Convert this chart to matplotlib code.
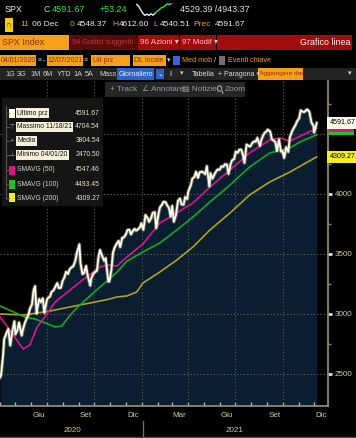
import numpy as np
import pandas as pd
import matplotlib
matplotlib.use("Agg")
import matplotlib.pyplot as plt
import matplotlib.dates as mdates
from matplotlib import font_manager
from matplotlib.patches import Rectangle, Circle
from matplotlib.lines import Line2D
from matplotlib.transforms import blended_transform_factory

# ── data ─────────────────────────────────────────────────────────────────────
price_dates = [
    "2020-04-01", "2020-04-03", "2020-04-07", "2020-04-09", "2020-04-14", "2020-04-17",
    "2020-04-21", "2020-04-24", "2020-04-29", "2020-05-01", "2020-05-05", "2020-05-08",
    "2020-05-13", "2020-05-15", "2020-05-19", "2020-05-22", "2020-05-26", "2020-05-29",
    "2020-06-02", "2020-06-05", "2020-06-08", "2020-06-11", "2020-06-12", "2020-06-16",
    "2020-06-19", "2020-06-23", "2020-06-26", "2020-06-30", "2020-07-02", "2020-07-07",
    "2020-07-10", "2020-07-14", "2020-07-17", "2020-07-21", "2020-07-24", "2020-07-28",
    "2020-07-31", "2020-08-04", "2020-08-07", "2020-08-11", "2020-08-14", "2020-08-18",
    "2020-08-21", "2020-08-25", "2020-08-28", "2020-09-02", "2020-09-04", "2020-09-08",
    "2020-09-11", "2020-09-15", "2020-09-18", "2020-09-23", "2020-09-25", "2020-09-29",
    "2020-10-02", "2020-10-06", "2020-10-09", "2020-10-12", "2020-10-16", "2020-10-20",
    "2020-10-23", "2020-10-28", "2020-10-30", "2020-11-03", "2020-11-06", "2020-11-09",
    "2020-11-13", "2020-11-17", "2020-11-20", "2020-11-24", "2020-11-27", "2020-12-01",
    "2020-12-04", "2020-12-08", "2020-12-11", "2020-12-15", "2020-12-18", "2020-12-21",
    "2020-12-24", "2020-12-29", "2020-12-31",
    "2021-01-04", "2021-01-08", "2021-01-12", "2021-01-15", "2021-01-19", "2021-01-22",
    "2021-01-26", "2021-01-29", "2021-02-02", "2021-02-05", "2021-02-09", "2021-02-12",
    "2021-02-16", "2021-02-19", "2021-02-23", "2021-02-26", "2021-03-01", "2021-03-04",
    "2021-03-08", "2021-03-12", "2021-03-16", "2021-03-19", "2021-03-23", "2021-03-26",
    "2021-03-30", "2021-04-01", "2021-04-06", "2021-04-09", "2021-04-13", "2021-04-16",
    "2021-04-20", "2021-04-23", "2021-04-27", "2021-04-30", "2021-05-04", "2021-05-07",
    "2021-05-12", "2021-05-14", "2021-05-18", "2021-05-21", "2021-05-25", "2021-05-28",
    "2021-06-01", "2021-06-04", "2021-06-08", "2021-06-11", "2021-06-15", "2021-06-18",
    "2021-06-22", "2021-06-25", "2021-06-29", "2021-07-02", "2021-07-06", "2021-07-09",
    "2021-07-13", "2021-07-16", "2021-07-19", "2021-07-23", "2021-07-27", "2021-07-30",
    "2021-08-03", "2021-08-06", "2021-08-10", "2021-08-13", "2021-08-18", "2021-08-20",
    "2021-08-24", "2021-08-27", "2021-08-31", "2021-09-02", "2021-09-07", "2021-09-10",
    "2021-09-14", "2021-09-17", "2021-09-20", "2021-09-24", "2021-09-28", "2021-10-01",
    "2021-10-04", "2021-10-08", "2021-10-12", "2021-10-15", "2021-10-19", "2021-10-22",
    "2021-10-26", "2021-10-29", "2021-11-02", "2021-11-05", "2021-11-09", "2021-11-12",
    "2021-11-16", "2021-11-18", "2021-11-22", "2021-11-26", "2021-11-30", "2021-12-01",
    "2021-12-03", "2021-12-06",
]
price_close = [
    2470.50, 2488.65, 2659.41, 2789.82, 2846.06, 2874.56,
    2736.56, 2836.74, 2939.51, 2830.71, 2868.44, 2929.80,
    2820.00, 2863.70, 2922.94, 2955.45, 2991.77, 3044.31,
    3080.82, 3193.93, 3232.39, 3002.10, 3041.31, 3124.74,
    3097.74, 3131.29, 3009.05, 3100.29, 3130.01, 3145.32,
    3185.04, 3197.52, 3224.73, 3257.30, 3215.63, 3218.44,
    3271.12, 3306.51, 3351.28, 3333.69, 3372.85, 3389.78,
    3397.16, 3443.62, 3508.01, 3580.84, 3426.96, 3331.84,
    3340.97, 3401.20, 3319.47, 3236.92, 3298.46, 3335.47,
    3348.44, 3360.95, 3477.13, 3534.22, 3483.81, 3443.12,
    3465.39, 3271.03, 3269.96, 3369.16, 3509.44, 3550.50,
    3585.15, 3609.53, 3557.54, 3635.41, 3638.35, 3662.45,
    3699.12, 3702.25, 3663.46, 3694.62, 3709.41, 3694.92,
    3703.06, 3727.04, 3756.07,
    3700.65, 3824.68, 3801.19, 3768.25, 3798.91, 3841.47,
    3849.62, 3714.24, 3826.31, 3886.83, 3911.23, 3934.83,
    3932.59, 3906.71, 3881.37, 3811.15, 3901.82, 3768.47,
    3821.35, 3943.34, 3962.71, 3913.10, 3910.52, 3974.54,
    3958.55, 4019.87, 4073.94, 4128.80, 4141.59, 4185.47,
    4134.94, 4180.17, 4186.72, 4181.17, 4164.66, 4232.60,
    4063.04, 4173.85, 4127.83, 4155.86, 4188.13, 4204.11,
    4202.04, 4229.89, 4227.26, 4247.44, 4246.59, 4166.45,
    4246.44, 4280.70, 4291.80, 4352.34, 4343.54, 4369.55,
    4369.21, 4327.16, 4258.49, 4411.79, 4401.46, 4395.26,
    4423.15, 4436.52, 4436.75, 4468.00, 4400.27, 4441.67,
    4486.23, 4509.37, 4522.68, 4536.95, 4520.03, 4458.58,
    4443.05, 4432.99, 4357.73, 4455.48, 4352.63, 4357.04,
    4300.46, 4391.34, 4350.65, 4471.37, 4519.63, 4544.90,
    4574.79, 4605.38, 4630.65, 4697.53, 4685.25, 4682.85,
    4700.90, 4704.54, 4682.94, 4594.62, 4567.00, 4513.04,
    4538.43, 4591.67,
]

sma50_dates = [
    "2020-04-01", "2020-04-20", "2020-05-10", "2020-05-16", "2020-05-29", "2020-06-12",
    "2020-06-27", "2020-07-17", "2020-08-15", "2020-09-13", "2020-10-12", "2020-10-27",
    "2020-11-14", "2020-12-03", "2021-01-03", "2021-02-05", "2021-03-10", "2021-04-10",
    "2021-05-13", "2021-06-21", "2021-07-29", "2021-09-06", "2021-09-26", "2021-10-15",
    "2021-11-03", "2021-12-06",
]
sma50_vals = [
    2975, 2867, 2742, 2708, 2742, 2892,
    2975, 3100, 3200, 3300, 3392, 3408,
    3400, 3475, 3583, 3758, 3842, 3925,
    4058, 4200, 4342, 4450, 4467, 4440,
    4480, 4547.46,
]

sma100_dates = [
    "2020-04-01", "2020-05-19", "2020-06-08", "2020-07-17", "2020-07-30", "2020-08-15",
    "2020-09-03", "2020-10-12", "2020-10-31", "2020-11-14", "2020-12-03", "2021-01-03",
    "2021-02-05", "2021-03-10", "2021-04-10", "2021-05-13", "2021-06-21", "2021-07-29",
    "2021-09-06", "2021-10-15", "2021-11-03", "2021-12-06",
]
sma100_vals = [
    3067, 2975, 2958, 2892, 2900, 2992,
    3075, 3225, 3292, 3350, 3440, 3517,
    3592, 3700, 3808, 3933, 4075, 4225,
    4342, 4383, 4433, 4493.45,
]

sma200_dates = [
    "2020-04-01", "2020-05-19", "2020-07-07", "2020-09-03", "2020-10-12", "2020-10-31",
    "2020-11-14", "2020-12-03", "2020-12-22", "2021-01-03", "2021-02-05", "2021-03-10",
    "2021-04-10", "2021-05-13", "2021-06-21", "2021-07-29", "2021-09-06", "2021-10-15",
    "2021-12-06",
]
sma200_vals = [
    3000, 2992, 3025, 3075, 3108, 3125,
    3142, 3150, 3183, 3258, 3350, 3450,
    3558, 3700, 3842, 3992, 4100, 4183,
    4309.27,
]

legend_labels = ["Ultimo prz", "Massimo 11/18/21", "Media", "Minimo 04/01/20",
                 "SMAVG (50)", "SMAVG (100)", "SMAVG (200)"]
legend_values = ["4591.67", "4704.54", "3804.54", "2470.50",
                 "4547.46", "4493.45", "4309.27"]

y_ticks = [2500, 3000, 3500, 4000]
grid_levels = [2500, 3000, 3500, 4000, 4500]
month_label_dates = ["2020-06-15", "2020-09-15", "2020-12-15", "2021-03-15",
                     "2021-06-15", "2021-09-15", "2021-12-15"]
month_labels = ["Giu", "Set", "Dic", "Mar", "Giu", "Set", "Dic"]
quarter_dates = ["2020-07-01", "2020-10-01", "2021-01-01", "2021-04-01",
                 "2021-07-01", "2021-10-01"]

spark_vals = [9, 7.5, 5, 2.5, 1, 2, 1, 2.2, 1.2, 2.5, 4, 5, 6.5, 7, 8, 9.5, 8.8, 9.6]

# ── font: prefer a narrow face, like the terminal's ──────────────────────────
W, H = 356, 438
_names = {f.name for f in font_manager.fontManager.ttflist}
FONT, FS, NARROW = ["Liberation Sans", "DejaVu Sans"], 0.82, False
for cand, scale in [("Liberation Sans Narrow", 1.0), ("Noto Sans Condensed", 1.0),
                    ("Noto Sans SemiCondensed", 0.9), ("DejaVu Sans Condensed", 0.84)]:
    if cand in _names:
        FONT, FS, NARROW = [cand, "DejaVu Sans"], scale, scale >= 0.9
        break

TAN = "#d8cca2"
ORANGE = "#f59f1a"
OTXT = "#8a3200"
GREEN_TXT = "#3fdc3f"
C50, C100, C200 = "#d8168a", "#18a52a", "#aea21e"

fig = plt.figure(figsize=(W / 100, H / 100), dpi=100, facecolor="black")


def box(x0, y0, x1, y1, color, z=2, alpha=1.0):
    fig.patches.append(Rectangle((x0 / W, 1 - y1 / H), (x1 - x0) / W, (y1 - y0) / H,
                                 transform=fig.transFigure, color=color, zorder=z,
                                 alpha=alpha, lw=0))


def txt(x, y, s, color, size=7.5, ha="left", z=5, **kw):
    fig.text(x / W, 1 - y / H, s, color=color, fontsize=size * FS, ha=ha, va="center",
             family=FONT, zorder=z, **kw)


def hline(x0, x1, y, color, lw=1):
    fig.lines.append(Line2D([x0 / W, x1 / W], [1 - y / H, 1 - y / H],
                            transform=fig.transFigure, color=color, lw=lw, zorder=4))


def vline(x, y0, y1, color, lw=1):
    fig.lines.append(Line2D([x / W, x / W], [1 - y0 / H, 1 - y1 / H],
                            transform=fig.transFigure, color=color, lw=lw, zorder=4))


# ── main chart ───────────────────────────────────────────────────────────────
dates = pd.to_datetime(price_dates)
close = np.array(price_close)
y_lo, y_hi = 2233, 4950

ax = fig.add_axes([0, 32 / H, 328 / W, (406 - 80) / H])
ax.set_facecolor("black")
ax.set_xlim(pd.Timestamp("2020-04-01"), pd.Timestamp("2021-12-28"))
ax.set_ylim(y_lo, y_hi)

ax.fill_between(dates, close, y_lo, color="#0b1d31", lw=0, zorder=1)
for lev in grid_levels:
    ax.axhline(lev, color="#6a6a6a", lw=0.8, ls=(0, (1, 2)), zorder=2)
for qd in pd.to_datetime(quarter_dates):
    ax.axvline(qd, color="#5a5a5a", lw=0.8, ls=(0, (1, 2)), zorder=2)

ax.plot(pd.to_datetime(sma200_dates), sma200_vals, color=C200, lw=1.2, zorder=3)
ax.plot(pd.to_datetime(sma100_dates), sma100_vals, color=C100, lw=1.2, zorder=3)
ax.plot(pd.to_datetime(sma50_dates), sma50_vals, color=C50, lw=1.2, zorder=4)
ax.plot(dates, close, color="#b8b080", lw=2.6, alpha=0.55, zorder=5)
ax.plot(dates, close, color="#fffdf2", lw=1.3, zorder=6)

for side in ("left", "top"):
    ax.spines[side].set_visible(False)
for side in ("right", "bottom"):
    ax.spines[side].set_color("#8f8870")
    ax.spines[side].set_linewidth(1.3)

ax.yaxis.tick_right()
ax.set_yticks(y_ticks)
ax.set_yticklabels([str(v) for v in y_ticks], family=FONT, fontsize=7 * FS)
ax.set_yticks([2750, 3250, 3750, 4250, 4750], minor=True)
ax.tick_params(axis="y", which="major", colors="#e8e0b8", labelcolor=TAN,
               length=3, width=2, pad=2)
ax.tick_params(axis="y", which="minor", colors="#8f8870", length=2, width=1)

ax.xaxis.set_major_locator(mdates.MonthLocator())
ax.xaxis.set_major_formatter(plt.NullFormatter())
ax.set_xticks(pd.to_datetime(month_label_dates), minor=True)
ax.set_xticklabels(month_labels, minor=True, family=FONT, fontsize=7 * FS)
ax.tick_params(axis="x", which="major", direction="in", colors="#bdb59a", length=3, width=1)
ax.tick_params(axis="x", which="minor", length=0, labelcolor=TAN, pad=4)

# right-hand value tags
bt = blended_transform_factory(ax.transAxes, ax.transData)
box(329, 129, 354, 131.5, C50, z=3)
box(329, 131.5, 354, 134.5, "#22c32a", z=3)
ax.text(1.005, close[-1], f"{close[-1]:.2f}", transform=bt, color="black",
        fontsize=6.3 * FS, family=FONT, va="center", ha="left", clip_on=False, zorder=10,
        bbox=dict(boxstyle="square,pad=0.4", fc="#fffbea", ec="none"))
ax.text(1.005, sma200_vals[-1], f"{sma200_vals[-1]:.2f}", transform=bt, color="black",
        fontsize=6.3 * FS, family=FONT, va="center", ha="left", clip_on=False, zorder=10,
        bbox=dict(boxstyle="square,pad=0.4", fc="#f3ee1c", ec="none"))

# years row
txt(72, 431, "2020", TAN, 7, ha="center")
txt(235, 431, "2021", TAN, 7, ha="center")
vline(143, 421, 438, "#6f6f6f")
hline(0, 356, 437, "#4a4a4a")

# ── legend box ───────────────────────────────────────────────────────────────
LEG = 6.6 if NARROW else 5.9
box(2, 98, 103, 206, "#171717", z=2, alpha=0.92)
vline(6, 106, 199, "#555555", lw=0.8)
row_y = [113, 127, 141, 155, 170, 184, 198]
swatches = ["#fffbea", None, None, None, C50, "#1fc02a", "#f3ee1c"]
symbols = [None, "⊤", "+", "⊥", None, None, None]
for i, (lab, val) in enumerate(zip(legend_labels, legend_values)):
    y = row_y[i]
    hline(6, 9, y, "#555555", lw=0.8)
    if swatches[i]:
        box(9, y - 4.5, 15, y + 4.5, swatches[i], z=3)
    else:
        txt(12, y, symbols[i], "#9a9a9a", 6.5, ha="center")
    if i < 4:
        txt(17, y, lab, "#111111", LEG, bbox=dict(boxstyle="square,pad=0.2",
                                                   fc="#f6f0da", ec="none"))
    else:
        txt(17, y, lab, "#d0d0d0", LEG)
    txt(100, y, val, "#e6dfc6", LEG, ha="right")

# ── header ───────────────────────────────────────────────────────────────────
HD = 8.2 if NARROW else 7.8
txt(5, 9, "SPX", "#f0f0f0", HD)
txt(44, 9, "C", "#d0d0d0", HD)
txt(52, 9, "4591.67", GREEN_TXT, HD + 0.3)
txt(100, 9, "+53.24", GREEN_TXT, HD)
txt(180, 9, "4529.39 /4943.37", "#e4e4e4", HD)

sp = fig.add_axes([135 / W, 1 - 16 / H, 38 / W, 13 / H])
sp.set_facecolor("none")
sp.axis("off")
sx = np.arange(len(spark_vals))
sp.plot(sx[:10], spark_vals[:10], color="#f0f0f0", lw=1)
sp.plot(sx[9:], spark_vals[9:], color="#3fdc3f", lw=1)

R2 = 8.0 if NARROW else 7.4
box(5, 18, 13, 32, "#f2cf00", z=3)
txt(9, 25, "∩", "#3a2a00", 7, ha="center")
txt(20, 25, "11", ORANGE, R2)
txt(32, 25, "06 Dec", "#e8e8e8", R2)
txt(70, 25, "0", ORANGE, R2)
txt(77, 25, "4548.37", "#eeeeee", R2)
txt(112, 25, "H", ORANGE, R2)
txt(119, 25, "4612.60", "#eeeeee", R2)
txt(153, 25, "L", ORANGE, R2)
txt(160, 25, "4540.51", "#eeeeee", R2)
txt(193, 25, "Prec", ORANGE, R2)
txt(215, 25, "4591.67", "#eeeeee", R2)

# red command bar
box(0, 35, 69, 50, ORANGE, z=3)
txt(2, 42.5, "SPX Index", OTXT, 7.8)
box(70, 35, 137, 50, "#5c0b0b", z=3)
txt(71.5, 42.5, "94 Grafici suggeriti", "#b23a3a", 6.5)
box(138, 35, 179, 50, "#a10d0d", z=3)
txt(140, 42.5, "96 Azioni ▾", "#f2c4c4", 7.0)
box(180, 35, 216, 50, "#a10d0d", z=3)
txt(181.5, 42.5, "97 Modif ▾", "#f2c4c4", 6.8)
box(217, 35, 352, 50, "#a10d0d", z=3)
txt(350, 42.5, "Grafico linea", "#f4f4f4", 7.8, ha="right")

# orange settings row
OR = 6.8 if NARROW else 6.1
box(0, 55, 36, 66, ORANGE, z=3)
txt(0.5, 60.5, "04/01/2020", OTXT, OR)
txt(39.5, 60.5, "≡", "#aaaaaa", 6, ha="center")
txt(43.5, 60.5, "-", "#dddddd", 6.5, ha="center")
box(47, 55, 83, 66, ORANGE, z=3)
txt(47.5, 60.5, "12/07/2021", OTXT, OR)
txt(86, 60.5, "≡", "#aaaaaa", 6, ha="center")
box(91, 55, 130, 66, ORANGE, z=3)
txt(93, 60.5, "Ult prz", OTXT, OR)
box(133, 55, 166, 66, ORANGE, z=3)
txt(134, 60.5, "Dt. locale", OTXT, OR)
txt(169, 60.5, "▾", "#dddddd", 6, ha="center")
box(173, 56, 180, 65, "#2e6ad8", z=3)
txt(182, 60.5, "Med mob", ORANGE, OR + 0.3)
txt(215.5, 60.5, "/", "#e8e8e8", 6.5, ha="center")
box(219, 56, 225, 65, "#707070", z=3)
txt(228, 60.5, "Eventi chiave", ORANGE, OR + 0.3)

# grey toolbar
TB = 6.8 if NARROW else 6.4
box(0, 68, 356, 80, "#232323", z=3)
for lx, lab in zip([5, 17, 30, 43, 57, 73, 85, 99],
                   ["1G", "3G", "1M", "6M", "YTD", "1A", "5A", "Mass"]):
    txt(lx, 74, lab, "#cfcfcf", TB)
box(117, 68.5, 154, 79.5, "#2e63c4", z=4)
txt(118.5, 74, "Giornaliero", "#f0f0f0", TB - 0.3)
box(156, 69, 164, 79, "#2e63c4", z=4)
txt(160, 74, "⌄", "#f0f0f0", 6, ha="center")
txt(169, 74, "ll", "#9a9a9a", TB)
txt(182, 74, "▾", "#cfcfcf", 6, ha="center")
txt(192, 74, "Tabella", "#dcdcdc", TB)
txt(218, 74, "+ Paragona ▾", "#dcdcdc", TB - 0.3)
box(258, 68.5, 303, 79.5, ORANGE, z=4)
txt(259, 74, "Aggiungere dati", OTXT, 5.7 if not NARROW else TB)
txt(350, 74, "▾", "#dcdcdc", 6, ha="center")

# chart tools strip
box(105, 82, 245, 97, "#262626", z=3)
txt(110, 89.5, "+ Track", "#9a9a9a", 7.2)
txt(142, 89.5, "∠ Annotare", "#9a9a9a", 7.2)
txt(182, 89.5, "▤ Notizie", "#9a9a9a", 7.2)
fig.patches.append(Circle((219.5 / W, 1 - 88.5 / H), 2.2 / W, transform=fig.transFigure,
                          fill=False, ec="#9a9a9a", lw=0.9, zorder=5))
vline(221.5, 90.5, 92.5, "#9a9a9a", lw=0.9)
txt(225, 89.5, "Zoom", "#9a9a9a", 7.2)

fig.savefig("out.png", dpi=100, facecolor="black")
